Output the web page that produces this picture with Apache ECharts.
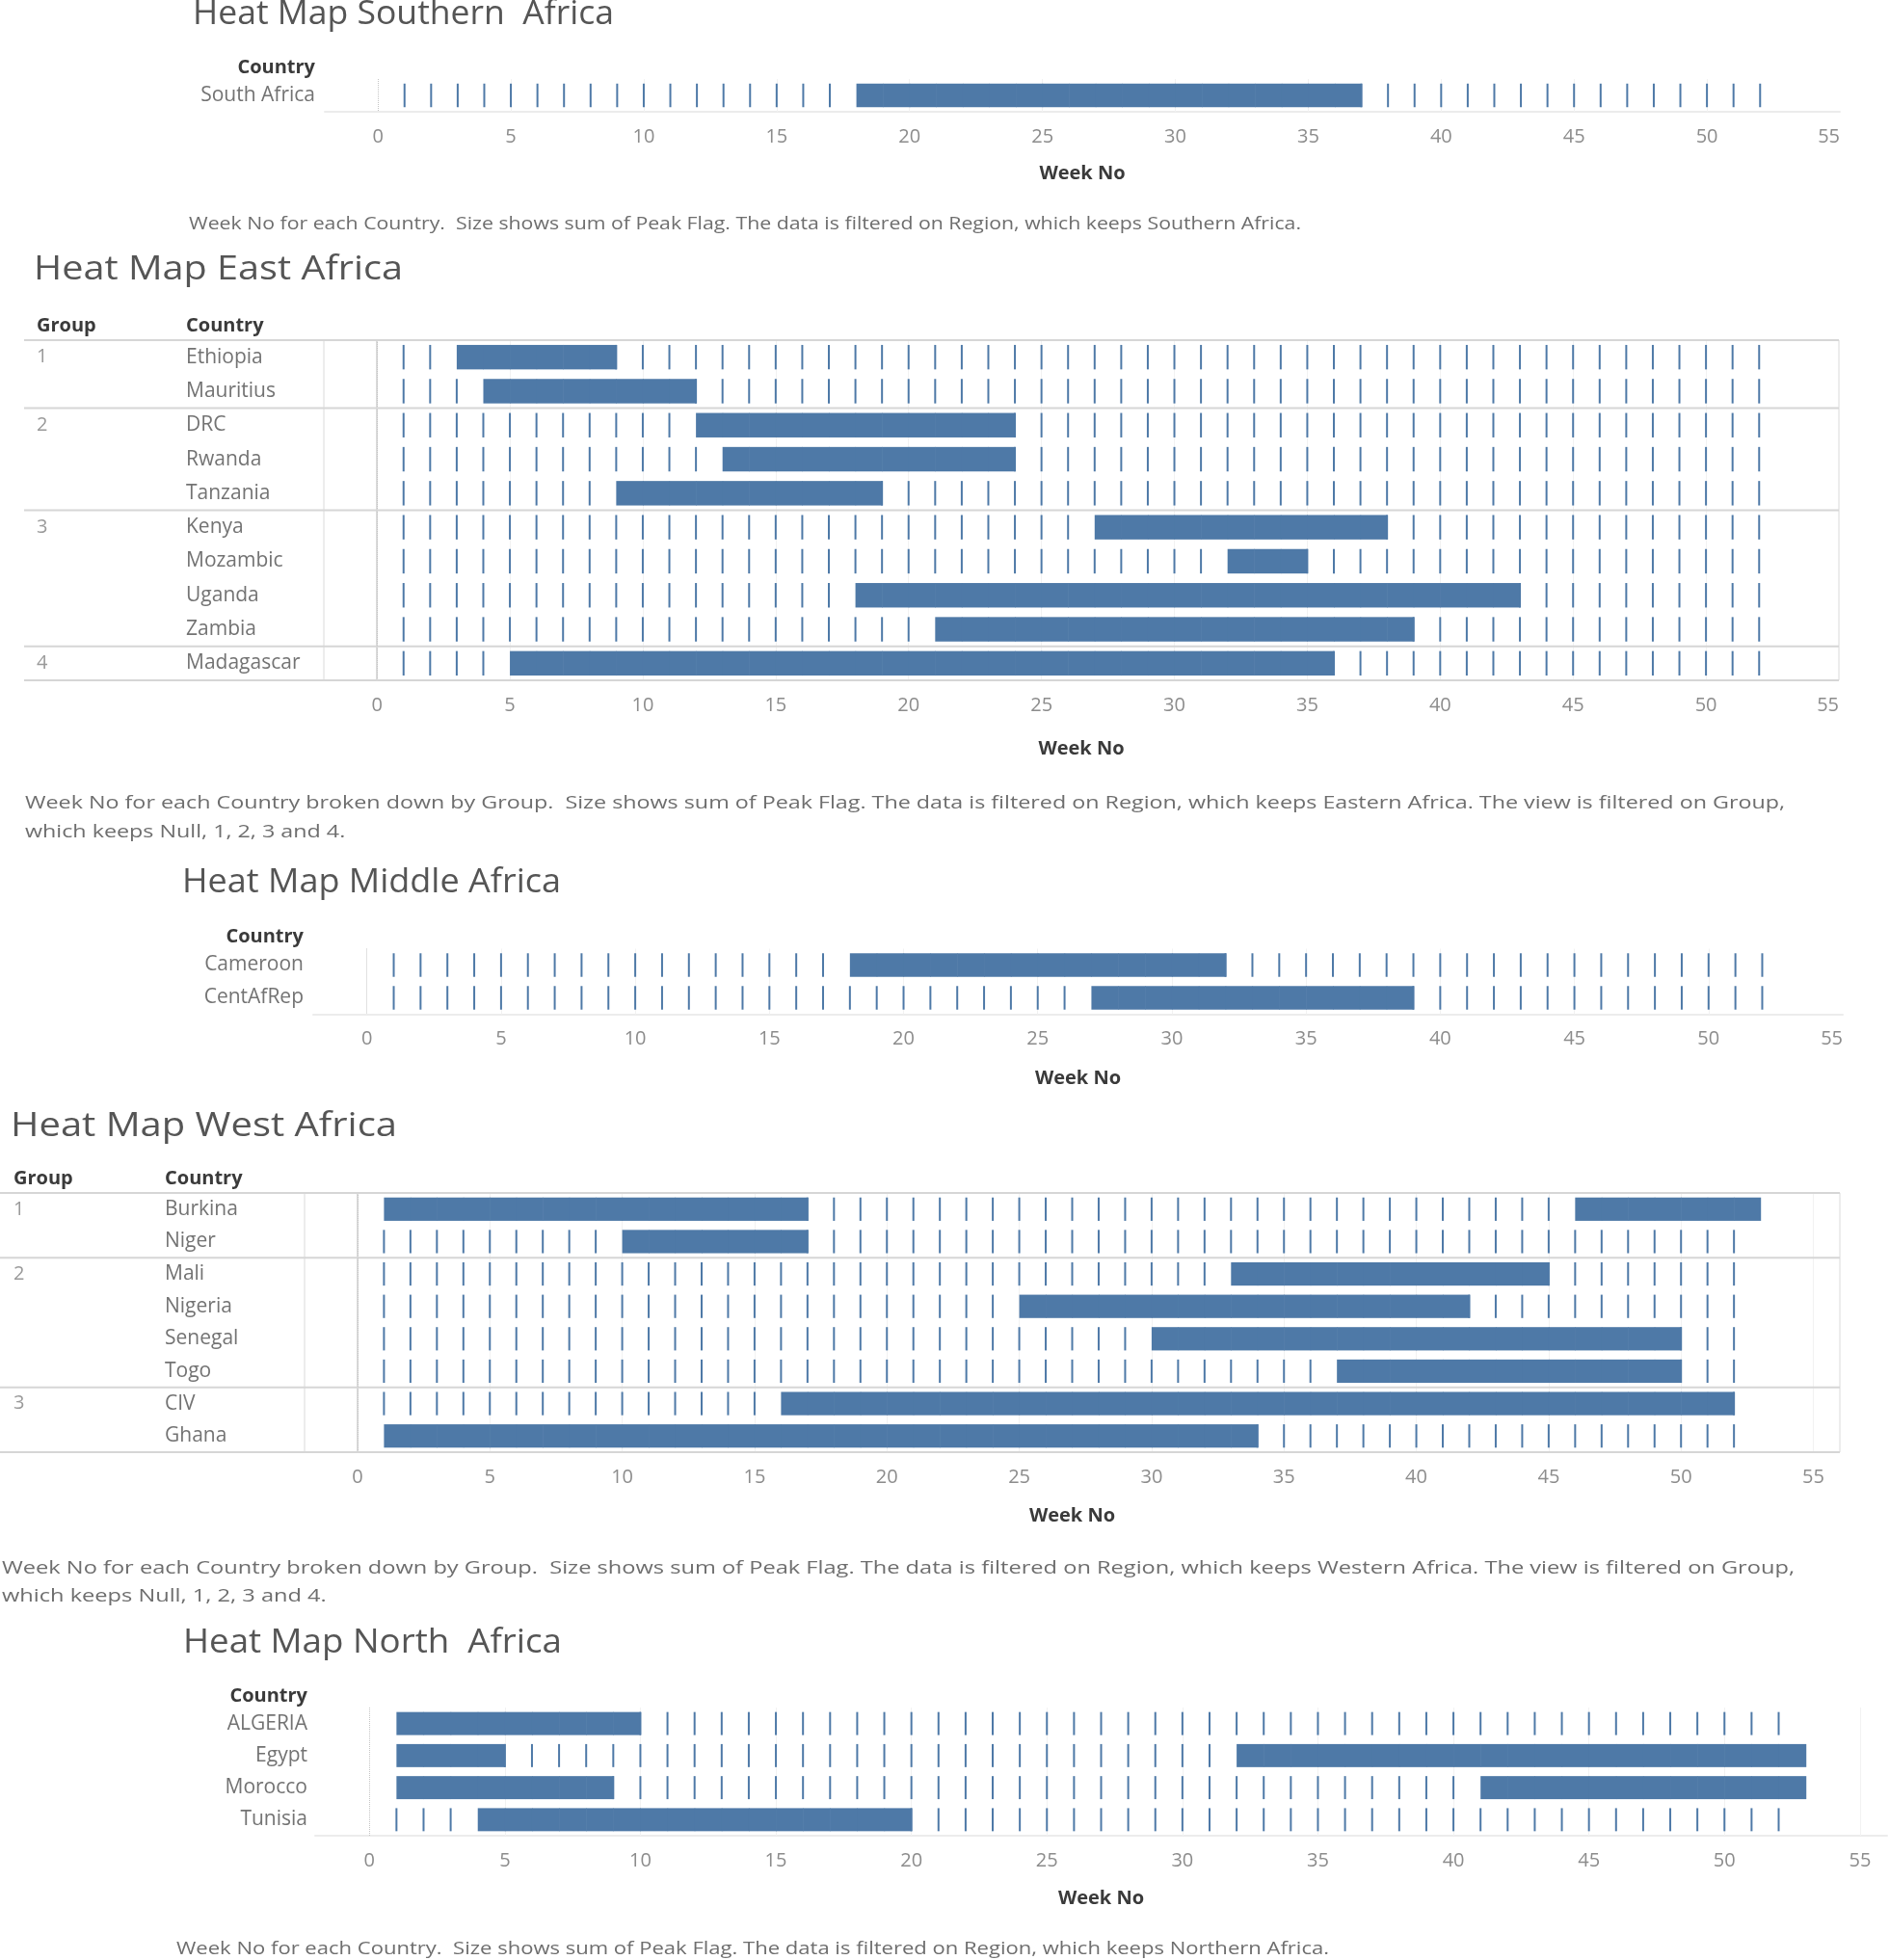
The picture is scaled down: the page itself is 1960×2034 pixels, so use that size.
<!DOCTYPE html>
<html>
<head>
<meta charset="utf-8">
<script src="https://cdn.jsdelivr.net/npm/echarts@6/dist/echarts.min.js"></script>
<style>
html,body{margin:0;padding:0;background:#ffffff;}
#chart{width:1960px;height:2034px;}
</style>
</head>
<body>
<div id="chart"></div>
<script>
// ---------------- DATA ----------------
const weekTicks = [0, 5, 10, 15, 20, 25, 30, 35, 40, 45, 50, 55];
const weeks = Array.from({length: 52}, (_, i) => i + 1); // Week No domain 1..52

// peak ranges = [first peak week, last peak week] (inclusive)
const southCountries = ['South Africa'];
const southPeaks = [[[18, 36]]];

const eastCountries = ['Ethiopia', 'Mauritius', 'DRC', 'Rwanda', 'Tanzania', 'Kenya', 'Mozambic', 'Uganda', 'Zambia', 'Madagascar'];
const eastGroups = [1, 1, 2, 2, 2, 3, 3, 3, 3, 4];
const eastPeaks = [[[3, 8]], [[4, 11]], [[12, 23]], [[13, 23]], [[9, 18]], [[27, 37]], [[32, 34]], [[18, 42]], [[21, 38]], [[5, 35]]];

const middleCountries = ['Cameroon', 'CentAfRep'];
const middlePeaks = [[[18, 31]], [[27, 38]]];

const westCountries = ['Burkina', 'Niger', 'Mali', 'Nigeria', 'Senegal', 'Togo', 'CIV', 'Ghana'];
const westGroups = [1, 1, 2, 2, 2, 2, 3, 3];
const westPeaks = [[[1, 16], [46, 52]], [[10, 16]], [[33, 44]], [[25, 41]], [[30, 49]], [[37, 49]], [[16, 51]], [[1, 33]]];

const northCountries = ['ALGERIA', 'Egypt', 'Morocco', 'Tunisia'];
const northPeaks = [[[1, 9]], [[1, 4], [32, 52]], [[1, 8], [41, 52]], [[4, 19]]];

const titles = ['Heat Map Southern  Africa', 'Heat Map East Africa', 'Heat Map Middle Africa', 'Heat Map West Africa', 'Heat Map North  Africa'];
const footnotes = [
  ['Week No for each Country.  Size shows sum of Peak Flag. The data is filtered on Region, which keeps Southern Africa.'],
  ['Week No for each Country broken down by Group.  Size shows sum of Peak Flag. The data is filtered on Region, which keeps Eastern Africa. The view is filtered on Group,', 'which keeps Null, 1, 2, 3 and 4.'],
  [],
  ['Week No for each Country broken down by Group.  Size shows sum of Peak Flag. The data is filtered on Region, which keeps Western Africa. The view is filtered on Group,', 'which keeps Null, 1, 2, 3 and 4.'],
  ['Week No for each Country.  Size shows sum of Peak Flag. The data is filtered on Region, which keeps Northern Africa.']
];

// ---------------- LAYOUT / STYLE ----------------
const FONT = '"Open Sans", "Noto Sans", sans-serif';
const BLUE = '#4e79a7';

const panels = [
  {countries: southCountries, peaks: southPeaks, groups: null,
   grid: {left: 337, top: 82, width: 1572, height: 34}, xMax: 55, nameGap: 54,
   title: {x: 200, y: 15, w: 437}, header: {right: 327, y: 70}, labelMargin: 10,
   notes: [{x: 196, y: 233}], noteW: 1154},
  {countries: eastCountries, peaks: eastPeaks, groups: eastGroups,
   grid: {left: 336, top: 353, width: 1572, height: 353}, xMax: 55, nameGap: 61,
   title: {x: 35, y: 280, w: 383}, header: {groupX: 38, countryX: 193, y: 338}, tableLeft: 25,
   notes: [{x: 26, y: 834}, {x: 26, y: 864}], noteW: 1826},
  {countries: middleCountries, peaks: middlePeaks, groups: null,
   grid: {left: 325, top: 984.5, width: 1587, height: 68}, xMax: 55, nameGap: 57,
   title: {x: 189, y: 916, w: 393}, header: {right: 315, y: 972}, labelMargin: 10,
   notes: [], noteW: 0},
  {countries: westCountries, peaks: westPeaks, groups: westGroups,
   grid: {left: 316, top: 1238, width: 1593, height: 269}, xMax: 56, nameGap: 56,
   title: {x: 11, y: 1169, w: 401}, header: {groupX: 14, countryX: 171, y: 1223}, tableLeft: 0,
   notes: [{x: 2, y: 1628}, {x: 2, y: 1657}], noteW: 1860},
  {countries: northCountries, peaks: northPeaks, groups: null,
   grid: {left: 327, top: 1772, width: 1631, height: 133}, xMax: 56, nameGap: 55,
   title: {x: 190, y: 1705, w: 393}, header: {right: 319, y: 1760}, labelMargin: 8,
   notes: [{x: 183, y: 2023}], noteW: 1196}
];

// text width helper (for horizontal text scaling of titles / footnotes)
const mctx = document.createElement('canvas').getContext('2d');
function textWidth(str, size, weight) {
  mctx.font = (weight || 'normal') + ' ' + size + 'px ' + FONT;
  return mctx.measureText(str).width;
}
const TITLE_SIZE = 34, NOTE_SIZE = 18;

// ---------------- RENDERERS ----------------
function renderMark(params, api) {
  const w = api.value(0), row = api.value(1), size = api.value(2);
  const c = api.coord([w, row]);
  const h = api.size([0, 1])[1] * 0.72;
  if (size > 0) {
    const c2 = api.coord([w + size, row]);
    return {type: 'rect', shape: {x: c[0], y: c[1] - h / 2, width: c2[0] - c[0] + 0.6, height: h},
            style: {fill: BLUE}};
  }
  return {type: 'rect', shape: {x: c[0] - 1, y: c[1] - h / 2, width: 2, height: h}, style: {fill: BLUE}};
}

function makeSepRender(n, tableLeft) {
  return function (params, api) {
    const idx = api.value(1);
    const band = api.size([0, 1])[1];
    let y;
    if (idx < n) y = api.coord([0, idx])[1] - band / 2;
    else y = api.coord([0, n - 1])[1] + band / 2;
    const cs = params.coordSys;
    return {type: 'line', shape: {x1: tableLeft, y1: y, x2: cs.x + cs.width, y2: y},
            style: {stroke: '#d6d6d6', lineWidth: 2}};
  };
}

// ---------------- OPTION ----------------
const grids = [], xAxes = [], yAxes = [], series = [], graphics = [];

panels.forEach((p, i) => {
  const tabular = !!p.groups;
  grids.push(Object.assign({
    containLabel: false,
    show: tabular,
    borderColor: '#dadada',
    borderWidth: 1
  }, p.grid));

  xAxes.push({
    gridIndex: i, type: 'value', min: -2, max: p.xMax,
    axisLabel: {customValues: weekTicks.filter(v => v <= p.xMax), color: '#8c8c8c', fontSize: 20,
                fontFamily: FONT, margin: 16, alignMaxLabel: p.xMax === 55 ? 'right' : null},
    axisTick: {show: false},
    splitLine: {show: false},
    axisLine: {show: !tabular, lineStyle: {color: '#ececec', width: 2}},
    name: 'Week No', nameLocation: 'middle', nameGap: p.nameGap,
    nameTextStyle: {fontWeight: 'bold', fontSize: 20, color: '#3a3a3a', fontFamily: FONT}
  });

  const yLabel = tabular ? {
    interval: 0, align: 'left', margin: p.grid.left - p.header.groupX,
    formatter: function (val, idx) {
      const first = idx === 0 || p.groups[idx] !== p.groups[idx - 1];
      return (first ? '{g|' + p.groups[idx] + '}' : '{g|\u00a0}') + '{c|' + val + '}';
    },
    rich: {
      g: {width: p.header.countryX - p.header.groupX, color: '#9a9a9a', fontSize: 20, fontFamily: FONT},
      c: {color: '#737373', fontSize: 21, fontFamily: FONT}
    }
  } : {interval: 0, margin: p.labelMargin, color: '#737373', fontSize: 21, fontFamily: FONT};

  yAxes.push({
    gridIndex: i, type: 'category', inverse: true, data: p.countries,
    axisTick: {show: false},
    axisLine: {show: tabular, lineStyle: {color: '#cfcfcf', width: 1.5}},
    splitLine: {show: false},
    axisLabel: yLabel
  });

  // background guides (zero line + faint gridlines)
  series.push({
    type: 'custom', xAxisIndex: i, yAxisIndex: i, data: [], z: 1, silent: true,
    renderItem: function () { return null; },
    markLine: {
      silent: true, symbol: 'none', animation: false, label: {show: false}, z: 1,
      data: [{xAxis: 0, lineStyle: {type: 'dotted', color: '#c4c4c4', width: 1}}].concat(
        weekTicks.filter(v => v > 0 && v < p.xMax).map(v => ({xAxis: v, lineStyle: {type: 'solid', color: '#f2f2f2', width: 1}})))
    }
  });

  // marks: one per country-week; size = peak flag
  const markData = [];
  p.countries.forEach((c, r) => {
    weeks.forEach(w => {
      const flag = p.peaks[r].some(rg => w >= rg[0] && w <= rg[1]) ? 1 : 0;
      markData.push([w, r, flag]);
    });
  });
  series.push({
    type: 'custom', xAxisIndex: i, yAxisIndex: i, z: 3, silent: true,
    renderItem: renderMark, data: markData, encode: {x: 0, y: 1}
  });

  // table separators
  if (tabular) {
    const n = p.countries.length;
    const bounds = [0];
    p.groups.forEach((g, k) => { if (k > 0 && g !== p.groups[k - 1]) bounds.push(k); });
    bounds.push(n);
    series.push({
      type: 'custom', xAxisIndex: i, yAxisIndex: i, z: 4, silent: true, clip: false,
      renderItem: makeSepRender(n, p.tableLeft), data: bounds.map(b => [0, b]), encode: {x: 0, y: 1}
    });
  }

  // title
  const tScale = p.title.w / textWidth(titles[i], TITLE_SIZE);
  graphics.push({
    type: 'text', x: p.title.x, y: p.title.y, scaleX: tScale, silent: true,
    style: {text: titles[i], fontSize: TITLE_SIZE, fontFamily: FONT, fill: '#555555',
            align: 'left', verticalAlign: 'middle', textAlign: 'left', textVerticalAlign: 'middle'}
  });
  // headers
  if (tabular) {
    graphics.push({type: 'text', x: p.header.groupX, y: p.header.y, silent: true,
      style: {text: 'Group', fontSize: 20, fontWeight: 'bold', fontFamily: FONT, fill: '#3a3a3a',
              align: 'left', verticalAlign: 'middle', textAlign: 'left', textVerticalAlign: 'middle'}});
    graphics.push({type: 'text', x: p.header.countryX, y: p.header.y, silent: true,
      style: {text: 'Country', fontSize: 20, fontWeight: 'bold', fontFamily: FONT, fill: '#3a3a3a',
              align: 'left', verticalAlign: 'middle', textAlign: 'left', textVerticalAlign: 'middle'}});
  } else {
    graphics.push({type: 'text', x: p.header.right, y: p.header.y, silent: true,
      style: {text: 'Country', fontSize: 20, fontWeight: 'bold', fontFamily: FONT, fill: '#3a3a3a',
              align: 'right', verticalAlign: 'middle', textAlign: 'right', textVerticalAlign: 'middle'}});
  }
  // footnotes
  if (footnotes[i].length) {
    const nScale = p.noteW / textWidth(footnotes[i][0], NOTE_SIZE);
    footnotes[i].forEach((t, k) => {
      const pos = p.notes[k];
      graphics.push({type: 'text', x: pos.x, y: pos.y, scaleX: nScale, silent: true,
        style: {text: t, fontSize: NOTE_SIZE, fontFamily: FONT, fill: '#6e6e6e',
                align: 'left', verticalAlign: 'middle', textAlign: 'left', textVerticalAlign: 'middle'}});
    });
  }
});

const chart = echarts.init(document.getElementById('chart'), null, {renderer: 'canvas'});
chart.setOption({
  backgroundColor: '#ffffff',
  animation: false,
  textStyle: {fontFamily: FONT},
  grid: grids,
  xAxis: xAxes,
  yAxis: yAxes,
  series: series,
  graphic: graphics
});
</script>
</body>
</html>
